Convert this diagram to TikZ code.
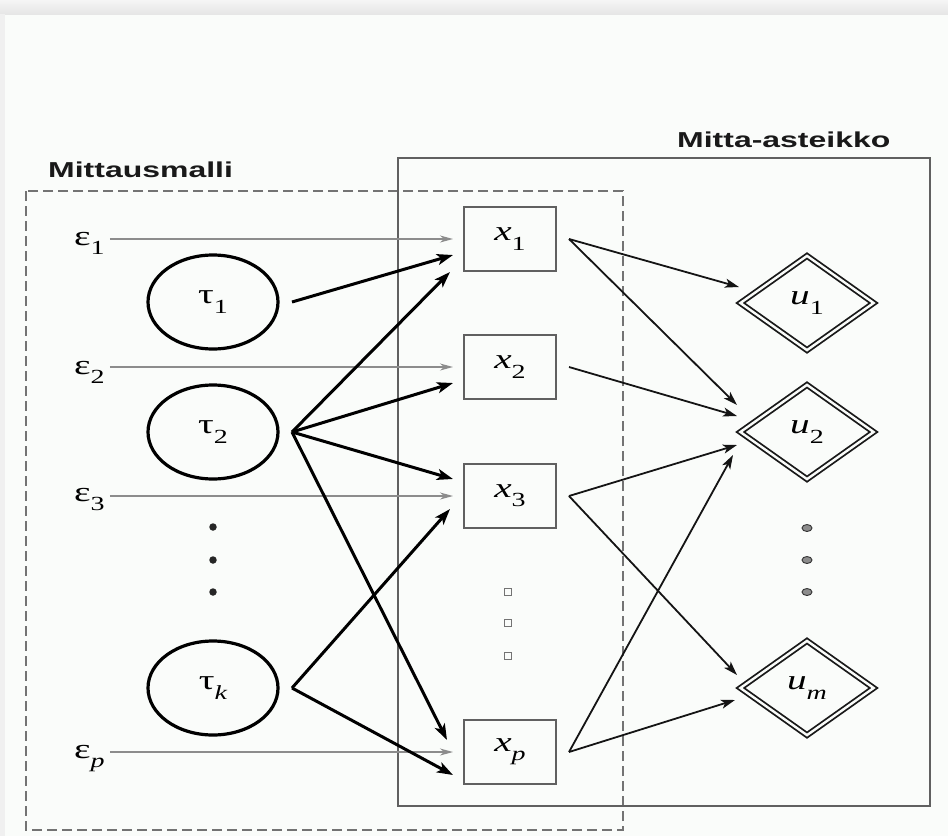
\documentclass[tikz,border=0pt]{standalone}
\usepackage{fontspec}
\setmainfont{Liberation Serif}[FakeStretch=1.4]
\newfontfamily\hdfont{Liberation Sans}[FakeStretch=1.48]
\usetikzlibrary{shapes.geometric,arrows.meta,calc}
\definecolor{bgcol}{HTML}{FAFCFA}
\definecolor{boxgray}{HTML}{606060}
\definecolor{arrgray}{HTML}{8C8C8C}
\newcommand\sbx[1]{\raisebox{-0.33em}{\fontsize{20}{20}\selectfont #1}}
\tikzset{
  lbl/.style={inner sep=0pt, font=\fontsize{28}{30}\selectfont},
  title/.style={inner sep=0pt, anchor=base west, font=\hdfont\bfseries\fontsize{21.6}{24}\selectfont, text=black!90},
  xbox/.style={draw=boxgray, line width=1.6pt, minimum width=92pt, minimum height=64pt, inner sep=0pt, font=\fontsize{28}{30}\selectfont},
  latent/.style={ellipse, draw=black, line width=3.2pt, minimum width=130pt, minimum height=94pt, inner sep=0pt, font=\fontsize{28}{30}\selectfont},
  uvar/.style={diamond, aspect=1.4, draw=black!90, line width=1.8pt, double=bgcol, double distance=2.4pt, minimum width=134pt, minimum height=95pt, inner sep=0pt, font=\fontsize{28}{30}\selectfont},
  dotL/.style={circle, fill=black!85, minimum size=7.5pt, inner sep=0pt},
  dotM/.style={rectangle, draw=black!55, line width=1pt, minimum size=7pt, inner sep=0pt},
  dotR/.style={ellipse, fill=black!45, draw=black!80, line width=0.9pt, minimum width=10pt, minimum height=7pt, inner sep=0pt},
  thick arr/.style={line width=3pt, -{Stealth[length=16pt, width=11pt, inset=4pt]}},
  thin arr/.style={line width=1.8pt, black!92, -{Stealth[length=14pt, width=9pt, inset=3.5pt]}},
  gray arr/.style={line width=1.3pt, arrgray, -{Stealth[length=13pt, width=7pt, inset=4pt]}, shorten <=5pt},
  regionA/.style={draw=black!55, line width=1.5pt, dash pattern=on 10pt off 5pt},
  regionB/.style={draw=boxgray, line width=1.5pt}
}
\begin{document}
\begin{tikzpicture}[x=1pt, y=-1pt]
\fill[bgcol] (0,0) rectangle (948,836);
\useasboundingbox (0,0) rectangle (948,836);
\shade[top color=black!4, bottom color=black!10] (0,0) rectangle (948,14);
\fill[black!6] (0,14) rectangle (5,836);

% regions
\draw[regionA] (26,191) rectangle (623,830);
\draw[regionB] (398,158) rectangle (930,806);
\node[title] (hA) at (48,177) {Mittausmalli};
\node[title] (hB) at (677,147) {Mitta-asteikko};

% observed variables
\node[xbox] (x1) at (510,239) {{\itshape x}\sbx{1}};
\node[xbox] (x2) at (510,367) {{\itshape x}\sbx{2}};
\node[xbox] (x3) at (510,496) {{\itshape x}\sbx{3}};
\node[xbox] (xp) at (510,752) {{\itshape x}\sbx{\itshape p}};

% latent variables
\node[latent] (t1) at (213,302) {τ\sbx{1}};
\node[latent] (t2) at (213,432) {τ\sbx{2}};
\node[latent] (tk) at (213,688) {τ\sbx{\itshape k}};

% scale variables
\node[uvar] (u1) at (807,303) {{\itshape u}\sbx{1}};
\node[uvar] (u2) at (807,432) {{\itshape u}\sbx{2}};
\node[uvar] (um) at (807,688) {{\itshape u}\sbx{\itshape m}};

% error terms
\node[lbl, anchor=base west] (e1) at (74,245) {ε\sbx{1}};
\node[lbl, anchor=base west] (e2) at (74,374) {ε\sbx{2}};
\node[lbl, anchor=base west] (e3) at (74,501) {ε\sbx{3}};
\node[lbl, anchor=base west] (ep) at (74,758) {ε\sbx{\itshape p}};

% dots
\node[dotL] (dl1) at (213,527) {};
\node[dotL] (dl2) at (213,560) {};
\node[dotL] (dl3) at (213,592) {};
\node[dotM] (dm1) at (508,592) {};
\node[dotM] (dm2) at (508,623) {};
\node[dotM] (dm3) at (508,656) {};
\node[dotR] (dr1) at (807,528) {};
\node[dotR] (dr2) at (807,560) {};
\node[dotR] (dr3) at (807,592) {};

% error arrows
\draw[gray arr] (e1.east |- x1.center) -- ($(x1)+(-57,0)$);
\draw[gray arr] (e2.east |- x2.center) -- ($(x2)+(-57,0)$);
\draw[gray arr] (e3.east |- x3.center) -- ($(x3)+(-57,0)$);
\draw[gray arr] (ep.east |- xp.center) -- ($(xp)+(-57,0)$);

% loadings
\draw[thick arr] ($(t1)+(79,0)$) -- ($(x1)+(-57,16)$);
\draw[thick arr] ($(t2)+(79,0)$) -- ($(x1)+(-60,33)$);
\draw[thick arr] ($(t2)+(79,0)$) -- ($(x2)+(-57,16)$);
\draw[thick arr] ($(t2)+(79,0)$) -- ($(x3)+(-57,-17)$);
\draw[thick arr] ($(t2)+(79,0)$) -- ($(xp)+(-63,-12)$);
\draw[thick arr] ($(tk)+(79,0)$) -- ($(x3)+(-60,13)$);
\draw[thick arr] ($(tk)+(79,0)$) -- ($(xp)+(-57,23)$);

% scale mappings
\draw[thin arr] ($(x1)+(59,0)$) -- ($(u1)+(-68,-16)$);
\draw[thin arr] ($(x1)+(59,0)$) -- ($(u2)+(-70,-27)$);
\draw[thin arr] ($(x2)+(59,0)$) -- ($(u2)+(-70,-16)$);
\draw[thin arr] ($(x3)+(59,0)$) -- ($(u2)+(-70,13)$);
\draw[thin arr] ($(x3)+(59,0)$) -- ($(um)+(-70,-13)$);
\draw[thin arr] ($(xp)+(59,0)$) -- ($(u2)+(-74,23)$);
\draw[thin arr] ($(xp)+(59,0)$) -- ($(um)+(-72,12)$);
\end{tikzpicture}
\end{document}
